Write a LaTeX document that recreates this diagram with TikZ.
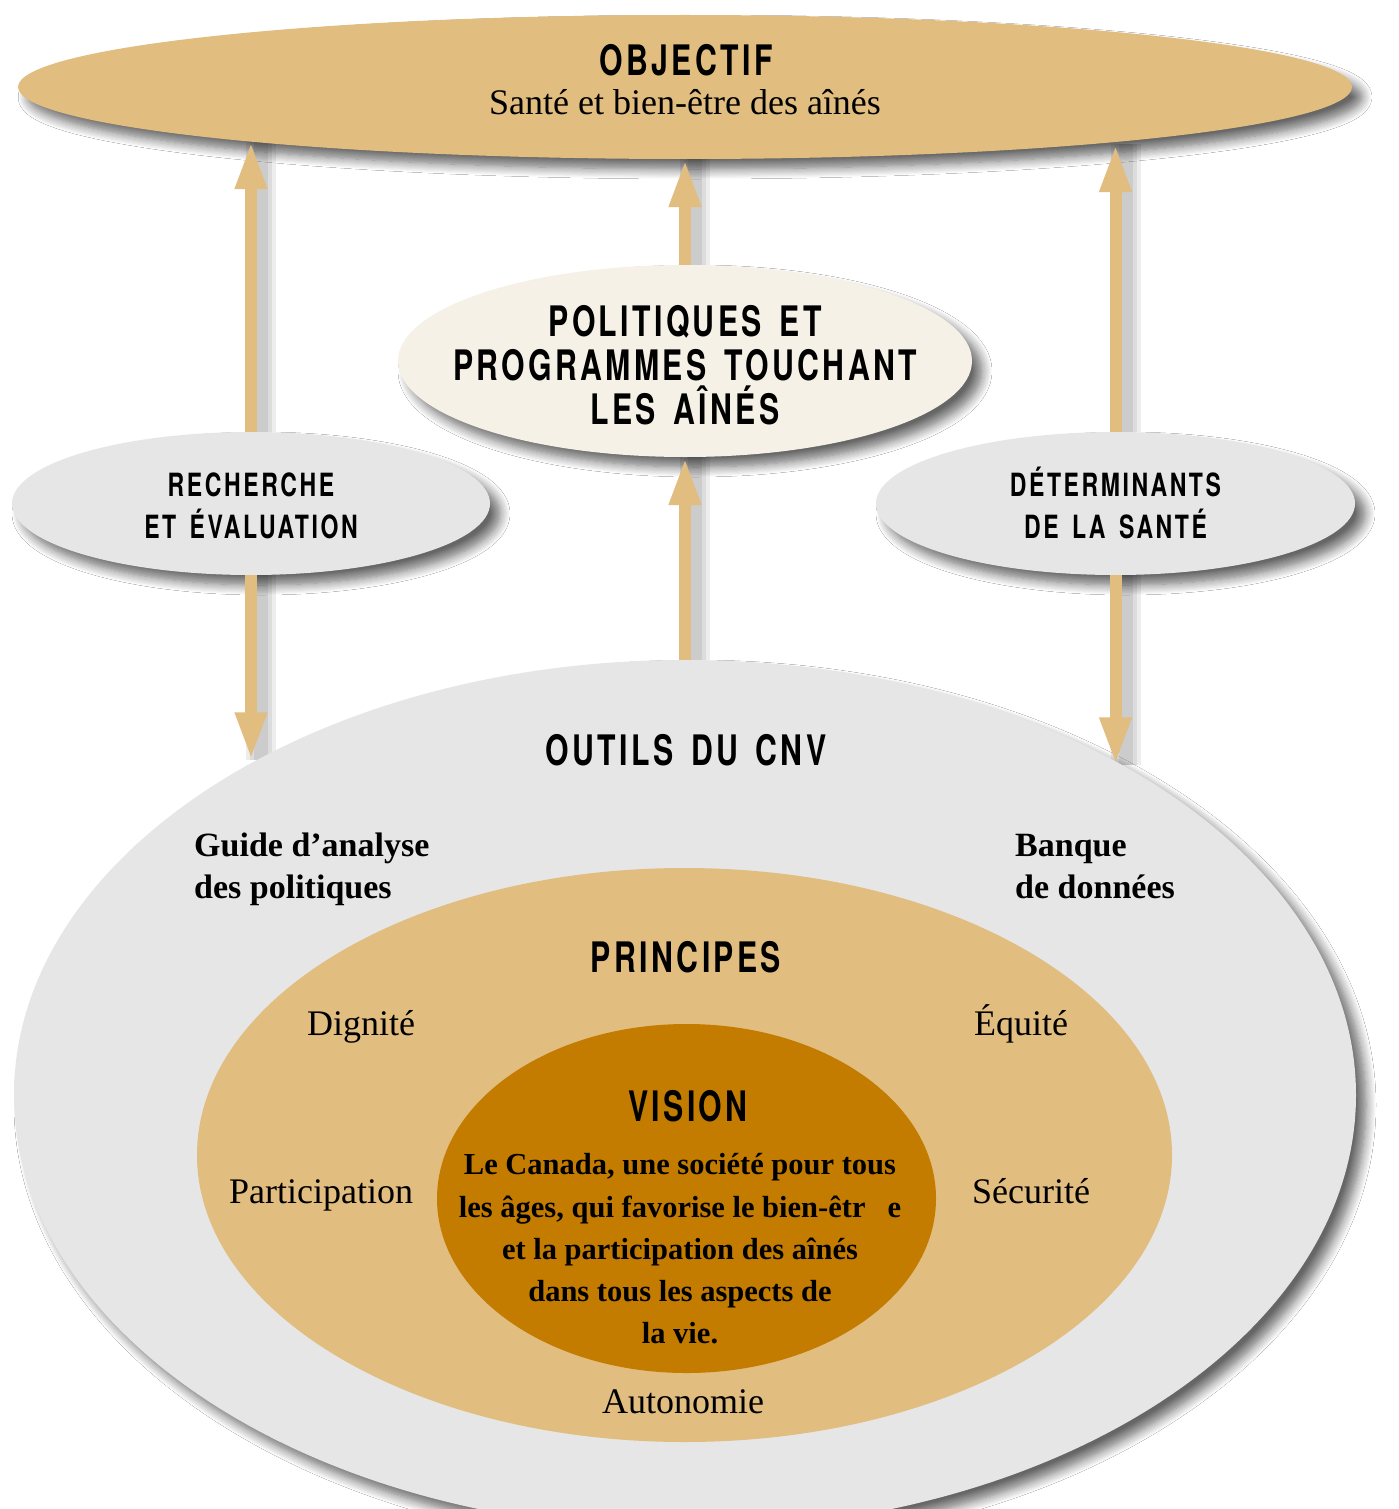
\documentclass[tikz,border=0pt]{standalone}
\usepackage{fontspec}
\setmainfont{Liberation Serif}
\newfontfamily\headfont[FakeStretch=0.72,LetterSpace=8,WordSpace=1.5]{TeX Gyre Heros}
\usetikzlibrary{shapes.geometric,arrows.meta,shadows.blur}
\definecolor{tanC}{RGB}{225,189,127}
\definecolor{grayC}{RGB}{230,230,230}
\definecolor{creamC}{RGB}{246,241,230}
\definecolor{visionC}{RGB}{195,124,0}
\pgfdeclarelayer{bg}
\pgfsetlayers{bg,main}
\tikzset{
  oval/.style={ellipse, inner sep=0pt, outer sep=0pt, draw=none},
  shad/.style={blur shadow={shadow xshift=10pt, shadow yshift=-10pt, shadow blur radius=10pt, shadow blur steps=10, shadow opacity=60}},
  headbig/.style={font=\headfont\bfseries\fontsize{42}{44}\selectfont, align=center, inner sep=0pt},
  headsmall/.style={font=\headfont\bfseries\fontsize{32}{42}\selectfont, align=center, inner sep=0pt},
  lab/.style={font=\fontsize{36}{36}\selectfont, inner sep=0pt, anchor=base},
  labb/.style={font=\bfseries\fontsize{34}{34}\selectfont, inner sep=0pt, anchor=base west},
  vistext/.style={font=\bfseries\fontsize{30.5}{42.3}\selectfont, align=center, inner sep=0pt},
  arr/.style={draw=tanC, line width=12pt, -{Triangle[width=29pt,length=48pt]}},
  arrsh/.style={draw=black, line width=#1, opacity=0.07, transform canvas={shift={(10pt,0pt)}}},
}
\begin{document}
\begin{tikzpicture}[x=1pt,y=-1pt]
\useasboundingbox (0,0) rectangle (1398,1509);
% ellipses
\node[oval, shad, fill=grayC, minimum width=1342pt, minimum height=870pt] (outils) at (685,1095) {};
\node[oval, fill=tanC, minimum width=975pt, minimum height=574pt] (princ) at (684.5,1155) {};
\node[oval, fill=visionC, minimum width=499pt, minimum height=349pt] (vision) at (686.5,1198.5) {};
\node[oval, shad, fill=tanC, minimum width=1334pt, minimum height=144pt] (obj) at (685,87) {};
\node[oval, shad, fill=creamC, minimum width=574pt, minimum height=192pt] (pol) at (685,361) {};
\node[oval, shad, fill=grayC, minimum width=478pt, minimum height=143pt] (rech) at (251,503.5) {};
\node[oval, shad, fill=grayC, minimum width=479pt, minimum height=143pt] (det) at (1115.5,503.5) {};
% arrows
\draw[arr] (rech.north) -- (rech.north |- obj.187.2);
\draw[arr] (rech.south) -- (rech.south |- outils.142.6);
\draw[arr] (pol.north) -- (obj.south);
\draw[arr] (outils.north) -- (pol.south);
\draw[arr] (det.north) -- (det.north |- obj.352.8);
\draw[arr] (det.south) -- (det.south |- outils.37.4);
\begin{pgfonlayer}{bg}
\fill[white] (0,0) rectangle (1398,1509);
\foreach \w in {30,22,14}{
  \draw[arrsh=\w pt] (rech.north) -- (rech.north |- obj.187.2);
  \draw[arrsh=\w pt] (rech.south) -- (rech.south |- outils.142.6);
  \draw[arrsh=\w pt] (pol.north) -- (obj.south);
  \draw[arrsh=\w pt] (outils.north) -- (pol.south);
  \draw[arrsh=\w pt] (det.north) -- (det.north |- obj.352.8);
  \draw[arrsh=\w pt] (det.south) -- (det.south |- outils.37.4);
}
\end{pgfonlayer}
% texts
\node[headbig] (objT) at (686,60) {OBJECTIF};
\node[lab] (objS) at (685,115) {Santé et bien-être des aînés};
\node[headbig] (polT) at (685,365) {POLITIQUES ET\\PROGRAMMES TOUCHANT\\LES AÎNÉS};
\node[headsmall] (rechT) at (251,506) {RECHERCHE\\ET ÉVALUATION};
\node[headsmall] (detT) at (1115.5,503) {DÉTERMINANTS\\DE LA SANTÉ};
\node[headbig] (outT) at (686,750) {OUTILS DU CNV};
\node[labb] (guide1) at (194,856) {Guide d’analyse};
\node[labb] (guide2) at (194,898) {des politiques};
\node[labb] (banq1) at (1015,856) {Banque};
\node[labb] (banq2) at (1015,898) {de données};
\node[headbig] (prT) at (686,957) {PRINCIPES};
\node[lab] (dig) at (361,1035) {Dignité};
\node[lab] (equ) at (1021,1035) {Équité};
\node[lab] (part) at (321,1203) {Participation};
\node[lab] (secu) at (1031,1203) {Sécurité};
\node[lab] (auto) at (683,1413) {Autonomie};
\node[headbig] (visT) at (688,1106) {VISION};
\node[vistext] (visX) at (680,1249) {Le Canada, une société pour tous\\les âges, qui favorise le bien-êtr\hspace{22pt}e\\et la participation des aînés\\dans tous les aspects de\\la vie.};
\end{tikzpicture}
\end{document}
